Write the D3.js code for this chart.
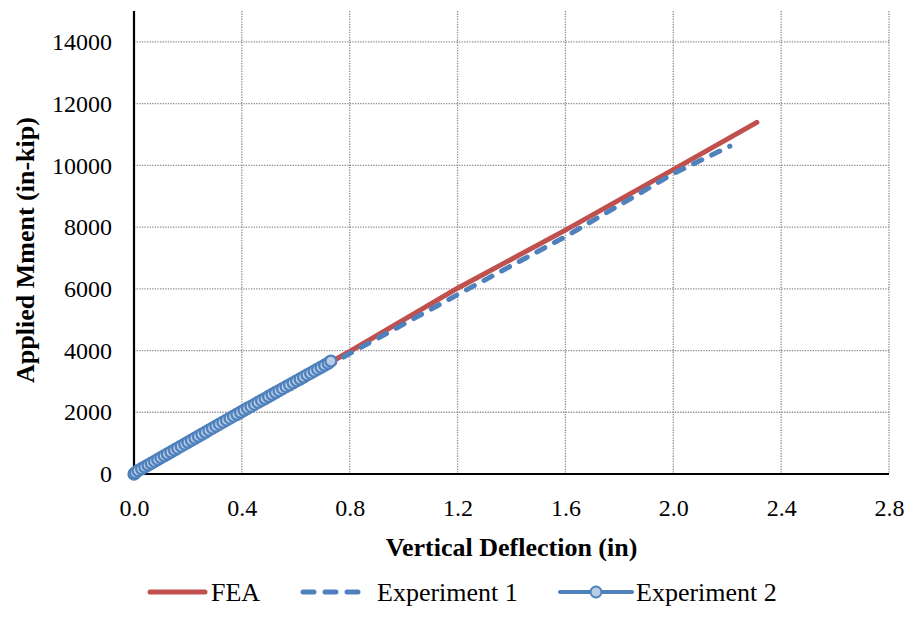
<!DOCTYPE html>
<html>
<head>
<meta charset="utf-8">
<script src="https://cdn.jsdelivr.net/npm/d3@7/dist/d3.min.js"></script>
<style>
  body { margin: 0; background: #fff; }
  text { font-family: "Liberation Serif", "Times New Roman", serif; }
</style>
</head>
<body>
<svg id="chart" width="909" height="631"></svg>
<script>
// FEA prediction
var feaDefl = [0, 0.4, 0.8, 1.2, 1.6, 2.0, 2.31];
var feaMoment = [0, 2000, 3970, 6020, 7900, 9860, 11390];

// Experiment 1 (dashed)
var exp1Defl = [0, 0.4, 0.8, 1.2, 1.6, 2.0, 2.21];
var exp1Moment = [0, 1980, 3900, 5810, 7690, 9730, 10620];

// Experiment 2 (markers)
var exp2Defl = [0, 0.005, 0.015, 0.028, 0.040, 0.052, 0.064, 0.076, 0.088, 0.100, 0.112, 0.124,
  0.137, 0.150, 0.162, 0.175, 0.188, 0.200, 0.213, 0.226, 0.239, 0.252, 0.265, 0.278, 0.291, 0.304,
  0.317, 0.330, 0.343, 0.356, 0.369, 0.382, 0.395, 0.408, 0.421, 0.434, 0.447, 0.460, 0.473, 0.486,
  0.499, 0.512, 0.525, 0.538, 0.551, 0.564, 0.577, 0.590, 0.603, 0.616, 0.629, 0.642, 0.655, 0.668,
  0.681, 0.694, 0.707, 0.720, 0.730];
var exp2Moment = [0, 40, 110, 170, 230, 290, 350, 410, 470, 530, 590, 650,
  715, 780, 840, 905, 970, 1030, 1095, 1160, 1225, 1290, 1355, 1420, 1485, 1550,
  1615, 1680, 1745, 1810, 1875, 1935, 2000, 2065, 2130, 2190, 2255, 2320, 2385, 2445,
  2510, 2575, 2640, 2700, 2765, 2830, 2890, 2955, 3020, 3080, 3145, 3210, 3270, 3335,
  3400, 3460, 3525, 3590, 3660];

var xTicks = [0, 0.4, 0.8, 1.2, 1.6, 2.0, 2.4, 2.8];
var yTicks = [0, 2000, 4000, 6000, 8000, 10000, 12000, 14000];

var seriesNames = ["FEA", "Experiment 1", "Experiment 2"];
var red = "#c0504d", blue = "#4f81bd", lightBlue = "#b9cde5";

var plotLeft = 134, plotRight = 889, plotTop = 11, plotBottom = 474;

var x = d3.scaleLinear().domain([0, 2.8]).range([plotLeft, plotRight]);
var y = d3.scaleLinear().domain([0, 15000]).range([plotBottom, plotTop]);

var svg = d3.select("#chart");

/* grid */
var grid = svg.append("g")
  .attr("stroke", "#8c8c8c")
  .attr("stroke-width", 1.3)
  .attr("stroke-dasharray", "1.3,1.3");

grid.selectAll(".gx")
  .data(xTicks.slice(1)).enter()
  .append("line")
  .attr("x1", d => x(d)).attr("x2", d => x(d))
  .attr("y1", plotTop).attr("y2", plotBottom);

grid.selectAll(".gy")
  .data(yTicks.slice(1)).enter()
  .append("line")
  .attr("x1", plotLeft).attr("x2", plotRight)
  .attr("y1", d => y(d)).attr("y2", d => y(d));

/* axes */
var xAxis = svg.append("g")
  .attr("transform", "translate(0," + plotBottom + ")")
  .call(d3.axisBottom(x).tickValues(xTicks).tickFormat(d3.format(".1f")).tickSize(0).tickPadding(25));

var yAxis = svg.append("g")
  .attr("transform", "translate(" + plotLeft + ",0)")
  .call(d3.axisLeft(y).tickValues(yTicks).tickFormat(d3.format("d")).tickSize(0).tickPadding(22));

[xAxis, yAxis].forEach(function (a) {
  a.select(".domain").attr("stroke", "#000").attr("stroke-width", 2.2);
  a.selectAll("text")
    .attr("fill", "#000")
    .style("font-family", "'Liberation Serif', serif")
    .style("font-size", "24px");
});
yAxis.select(".domain").attr("d", "M0," + plotBottom + "V" + plotTop);
xAxis.select(".domain").attr("d", "M" + plotLeft + ",0H" + plotRight);

svg.append("text")
  .attr("x", (plotLeft + plotRight) / 2)
  .attr("y", 556)
  .attr("text-anchor", "middle")
  .style("font-size", "26px")
  .style("font-weight", "bold")
  .text("Vertical Deflection (in)");

svg.append("text")
  .attr("transform", "translate(34,250) rotate(-90)")
  .attr("text-anchor", "middle")
  .style("font-size", "26px")
  .style("font-weight", "bold")
  .text("Applied Mment (in-kip)");

/* lines */
var line = d3.line()
  .x(d => x(d[0]))
  .y(d => y(d[1]));

var fea = d3.zip(feaDefl, feaMoment);
var exp1 = d3.zip(exp1Defl, exp1Moment);
var exp2 = d3.zip(exp2Defl, exp2Moment);

svg.append("path")
  .attr("d", line(fea))
  .attr("fill", "none")
  .attr("stroke", red)
  .attr("stroke-width", 5)
  .attr("stroke-linecap", "round");

svg.append("path")
  .attr("d", line(exp1))
  .attr("fill", "none")
  .attr("stroke", blue)
  .attr("stroke-width", 5)
  .attr("stroke-linecap", "round")
  .attr("stroke-dasharray", "9,11");

svg.append("path")
  .attr("d", line(exp2))
  .attr("fill", "none")
  .attr("stroke", blue)
  .attr("stroke-width", 3);

svg.append("g")
  .selectAll("circle")
  .data(exp2).enter()
  .append("circle")
  .attr("cx", d => x(d[0]))
  .attr("cy", d => y(d[1]))
  .attr("r", 5.5)
  .attr("fill", lightBlue)
  .attr("stroke", blue)
  .attr("stroke-width", 2.3);

/* legend */
var legY = 592;
var legend = svg.append("g");
var legItems = [
  { name: seriesNames[0], x0: 150, x1: 205, tx: 211 },
  { name: seriesNames[1], x0: 300, x1: 362, tx: 377 },
  { name: seriesNames[2], x0: 560, x1: 632, tx: 636 }
];

legend.append("line")
  .attr("x1", legItems[0].x0).attr("x2", legItems[0].x1)
  .attr("y1", legY).attr("y2", legY)
  .attr("stroke", red).attr("stroke-width", 5)
  .attr("stroke-linecap", "round");

legend.append("line")
  .attr("x1", legItems[1].x0 + 3).attr("x2", legItems[1].x1)
  .attr("y1", legY).attr("y2", legY)
  .attr("stroke", blue).attr("stroke-width", 5)
  .attr("stroke-linecap", "round")
  .attr("stroke-dasharray", "11,11");

legend.append("line")
  .attr("x1", legItems[2].x0).attr("x2", legItems[2].x1)
  .attr("y1", legY).attr("y2", legY)
  .attr("stroke", blue).attr("stroke-width", 4)
  .attr("stroke-linecap", "round");

legend.append("circle")
  .attr("cx", (legItems[2].x0 + legItems[2].x1) / 2)
  .attr("cy", legY)
  .attr("r", 5.5)
  .attr("fill", lightBlue)
  .attr("stroke", blue)
  .attr("stroke-width", 2);

legend.selectAll("text")
  .data(legItems).enter()
  .append("text")
  .attr("x", d => d.tx)
  .attr("y", legY)
  .attr("dy", "0.35em")
  .style("font-size", "26px")
  .text(d => d.name);
</script>
</body>
</html>
